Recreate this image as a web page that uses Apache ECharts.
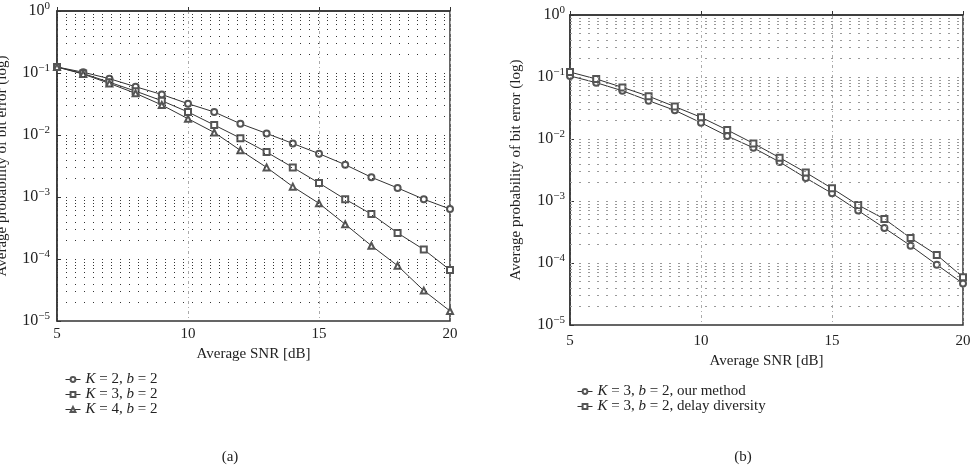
<!DOCTYPE html>
<html lang="en">
<head>
  <meta charset="UTF-8">
  <title>BER vs SNR</title>
  <style>
    html, body, #eChart {
      margin: 0;
      padding: 0;
      width: 100%;
      height: 100%;
      background: #fff;
    }
  </style>
</head>
<body>
<div id="eChart"></div>

<script src="https://cdn.jsdelivr.net/npm/echarts@6/dist/echarts.min.js"></script>
<script>
  // SNR in dB (x values shared by every curve)
  var snr = [5, 6, 7, 8, 9, 10, 11, 12, 13, 14, 15, 16, 17, 18, 19, 20];

  // panel (a)
  var k2b2 = [0.125, 0.103, 0.081, 0.060, 0.045, 0.032, 0.0235, 0.0152, 0.0106, 0.0073, 0.0050, 0.00332, 0.00208, 0.0014, 0.00092, 0.00064];
  var k3b2 = [0.125, 0.098, 0.071, 0.051, 0.0357, 0.0235, 0.0145, 0.0089, 0.0053, 0.0030, 0.00168, 0.00092, 0.00053, 0.000263, 0.000142, 0.0000665];
  var k4b2 = [0.125, 0.096, 0.068, 0.047, 0.0305, 0.0183, 0.011, 0.00566, 0.0030, 0.00147, 0.00079, 0.000363, 0.000164, 0.000078, 0.0000309, 0.0000145];

  // panel (b)
  var ourMethod = [0.104, 0.081, 0.060, 0.0415, 0.029, 0.0183, 0.0112, 0.0072, 0.00426, 0.00235, 0.00133, 0.0007, 0.000367, 0.00019, 0.0000938, 0.0000466];
  var delayDiv = [0.12, 0.093, 0.068, 0.049, 0.0333, 0.0224, 0.014, 0.0085, 0.005, 0.00288, 0.0016, 0.00086, 0.000513, 0.000253, 0.000135, 0.0000589];

  // log grid: decades and mantissas for the dotted lines
  var decades = [-5, -4, -3, -2, -1];
  var mantissas = [1, 2, 3, 4, 5, 6, 7, 8, 9];

  var FONT = 'Liberation Serif';
  var INK = '#333';

  function pairs(ys) {
    return snr.map(function (x, i) { return [x, ys[i]]; });
  }

  // positions in exponent space, drawn on a hidden linear axis
  function gridLines() {
    var out = [];
    decades.forEach(function (d) {
      mantissas.forEach(function (m) {
        if (d === -5 && m === 1) return;
        out.push({ yAxis: d + Math.log10(m) });
      });
    });
    return out;
  }

  function yLabel(v) {
    var e = Math.round(Math.log10(v));
    return '{b|10}{e|' + (e < 0 ? '\u2212' + (-e) : e) + '}';
  }

  function xAxis(idx, margin, gap) {
    return {
      gridIndex: idx, type: 'value', min: 5, max: 20, interval: 5,
      name: 'Average SNR [dB]', nameLocation: 'middle', nameGap: gap,
      nameTextStyle: { fontFamily: FONT, fontSize: 15, color: '#222' },
      axisLine: { lineStyle: { color: INK, width: 1.5 } },
      axisTick: { inside: true, length: 4, lineStyle: { color: INK } },
      axisLabel: { margin: margin, fontFamily: FONT, fontSize: 15, color: '#222' },
      splitLine: { show: true, lineStyle: { color: '#aaa', width: 1, type: [3, 3, 1, 3] } }
    };
  }

  function yAxis(idx, margin, gap) {
    return {
      gridIndex: idx, type: 'log', logBase: 10, min: 1e-5, max: 1, interval: 1,
      name: 'Average probability of bit error (log)', nameLocation: 'middle', nameGap: gap,
      nameTextStyle: { fontFamily: FONT, fontSize: 15, color: '#222' },
      axisLine: { lineStyle: { color: INK, width: 1.5 } },
      axisTick: { inside: true, length: 4, lineStyle: { color: INK } },
      axisLabel: {
        margin: margin, formatter: yLabel,
        rich: {
          b: { fontFamily: FONT, fontSize: 16, color: '#222' },
          e: { fontFamily: FONT, fontSize: 11, color: '#222', padding: [0, 0, 10, 0] }
        }
      },
      splitLine: { show: false }
    };
  }

  function hiddenY(idx) {
    return {
      gridIndex: idx, type: 'value', min: -5, max: 0, show: false,
      splitLine: { show: false }
    };
  }

  function curve(name, ys, symbol, idx) {
    return {
      name: name, type: 'line', xAxisIndex: idx, yAxisIndex: idx,
      data: pairs(ys), symbol: symbol, symbolSize: 6,
      lineStyle: { color: INK, width: 1 },
      itemStyle: { color: '#555', borderWidth: 1 },
      z: 3
    };
  }

  function dots(idx, color, dash) {
    return {
      name: 'grid' + idx, type: 'line', xAxisIndex: idx, yAxisIndex: idx + 2,
      data: [[5, -10]], symbol: 'none', lineStyle: { opacity: 0 },
      silent: true, z: 1,
      markLine: {
        silent: true, symbol: ['none', 'none'], label: { show: false },
        lineStyle: { color: color, width: 1, type: dash },
        emphasis: { disabled: true },
        data: gridLines()
      }
    };
  }

  function legendLabel(name) {
    return name.replace('K =', '{i|K} =').replace('b =', '{i|b} =');
  }

  var legendText = {
    fontFamily: FONT, fontSize: 15, color: '#222',
    rich: { i: { fontFamily: FONT, fontSize: 15, fontStyle: 'italic', color: '#222' } }
  };

  var myChart = echarts.init(document.getElementById('eChart'));

  myChart.setOption({
    animation: false,
    backgroundColor: '#fff',
    title: [
      { text: '(a)', left: 225, top: 445, textAlign: 'center',
        textStyle: { fontFamily: FONT, fontSize: 15, fontWeight: 'normal', color: '#222' } },
      { text: '(b)', left: 738, top: 445, textAlign: 'center',
        textStyle: { fontFamily: FONT, fontSize: 15, fontWeight: 'normal', color: '#222' } }
    ],
    grid: [
      { left: 57, top: 11, width: 393, height: 310, show: true, borderColor: INK, borderWidth: 1.5,
        outerBoundsMode: 'none', containLabel: false },
      { left: 570, top: 15, width: 393, height: 310, show: true, borderColor: INK, borderWidth: 1.5,
        outerBoundsMode: 'none', containLabel: false }
    ],
    legend: [
      { data: ['K = 2, b = 2', 'K = 3, b = 2', 'K = 4, b = 2'], orient: 'vertical',
        left: 60, top: 367, itemGap: 0, itemWidth: 15, itemHeight: 6,
        lineStyle: { width: 1 },
        formatter: legendLabel, textStyle: legendText },
      { data: ['K = 3, b = 2, our method', 'K = 3, b = 2, delay diversity'], orient: 'vertical',
        left: 572, top: 379, itemGap: 0, itemWidth: 15, itemHeight: 6,
        lineStyle: { width: 1 },
        formatter: legendLabel, textStyle: legendText }
    ],
    xAxis: [xAxis(0, 6, 26), xAxis(1, 9, 29)],
    yAxis: [yAxis(0, 7, 47), yAxis(1, 5, 46), hiddenY(0), hiddenY(1)],
    series: [
      dots(0, '#333', [1, 8]),
      dots(1, '#999', [2, 7]),
      curve('K = 2, b = 2', k2b2, 'emptyCircle', 0),
      curve('K = 3, b = 2', k3b2, 'emptyRect', 0),
      curve('K = 4, b = 2', k4b2, 'emptyTriangle', 0),
      curve('K = 3, b = 2, our method', ourMethod, 'emptyCircle', 1),
      curve('K = 3, b = 2, delay diversity', delayDiv, 'emptyRect', 1)
    ]
  });
</script>
</body>
</html>
